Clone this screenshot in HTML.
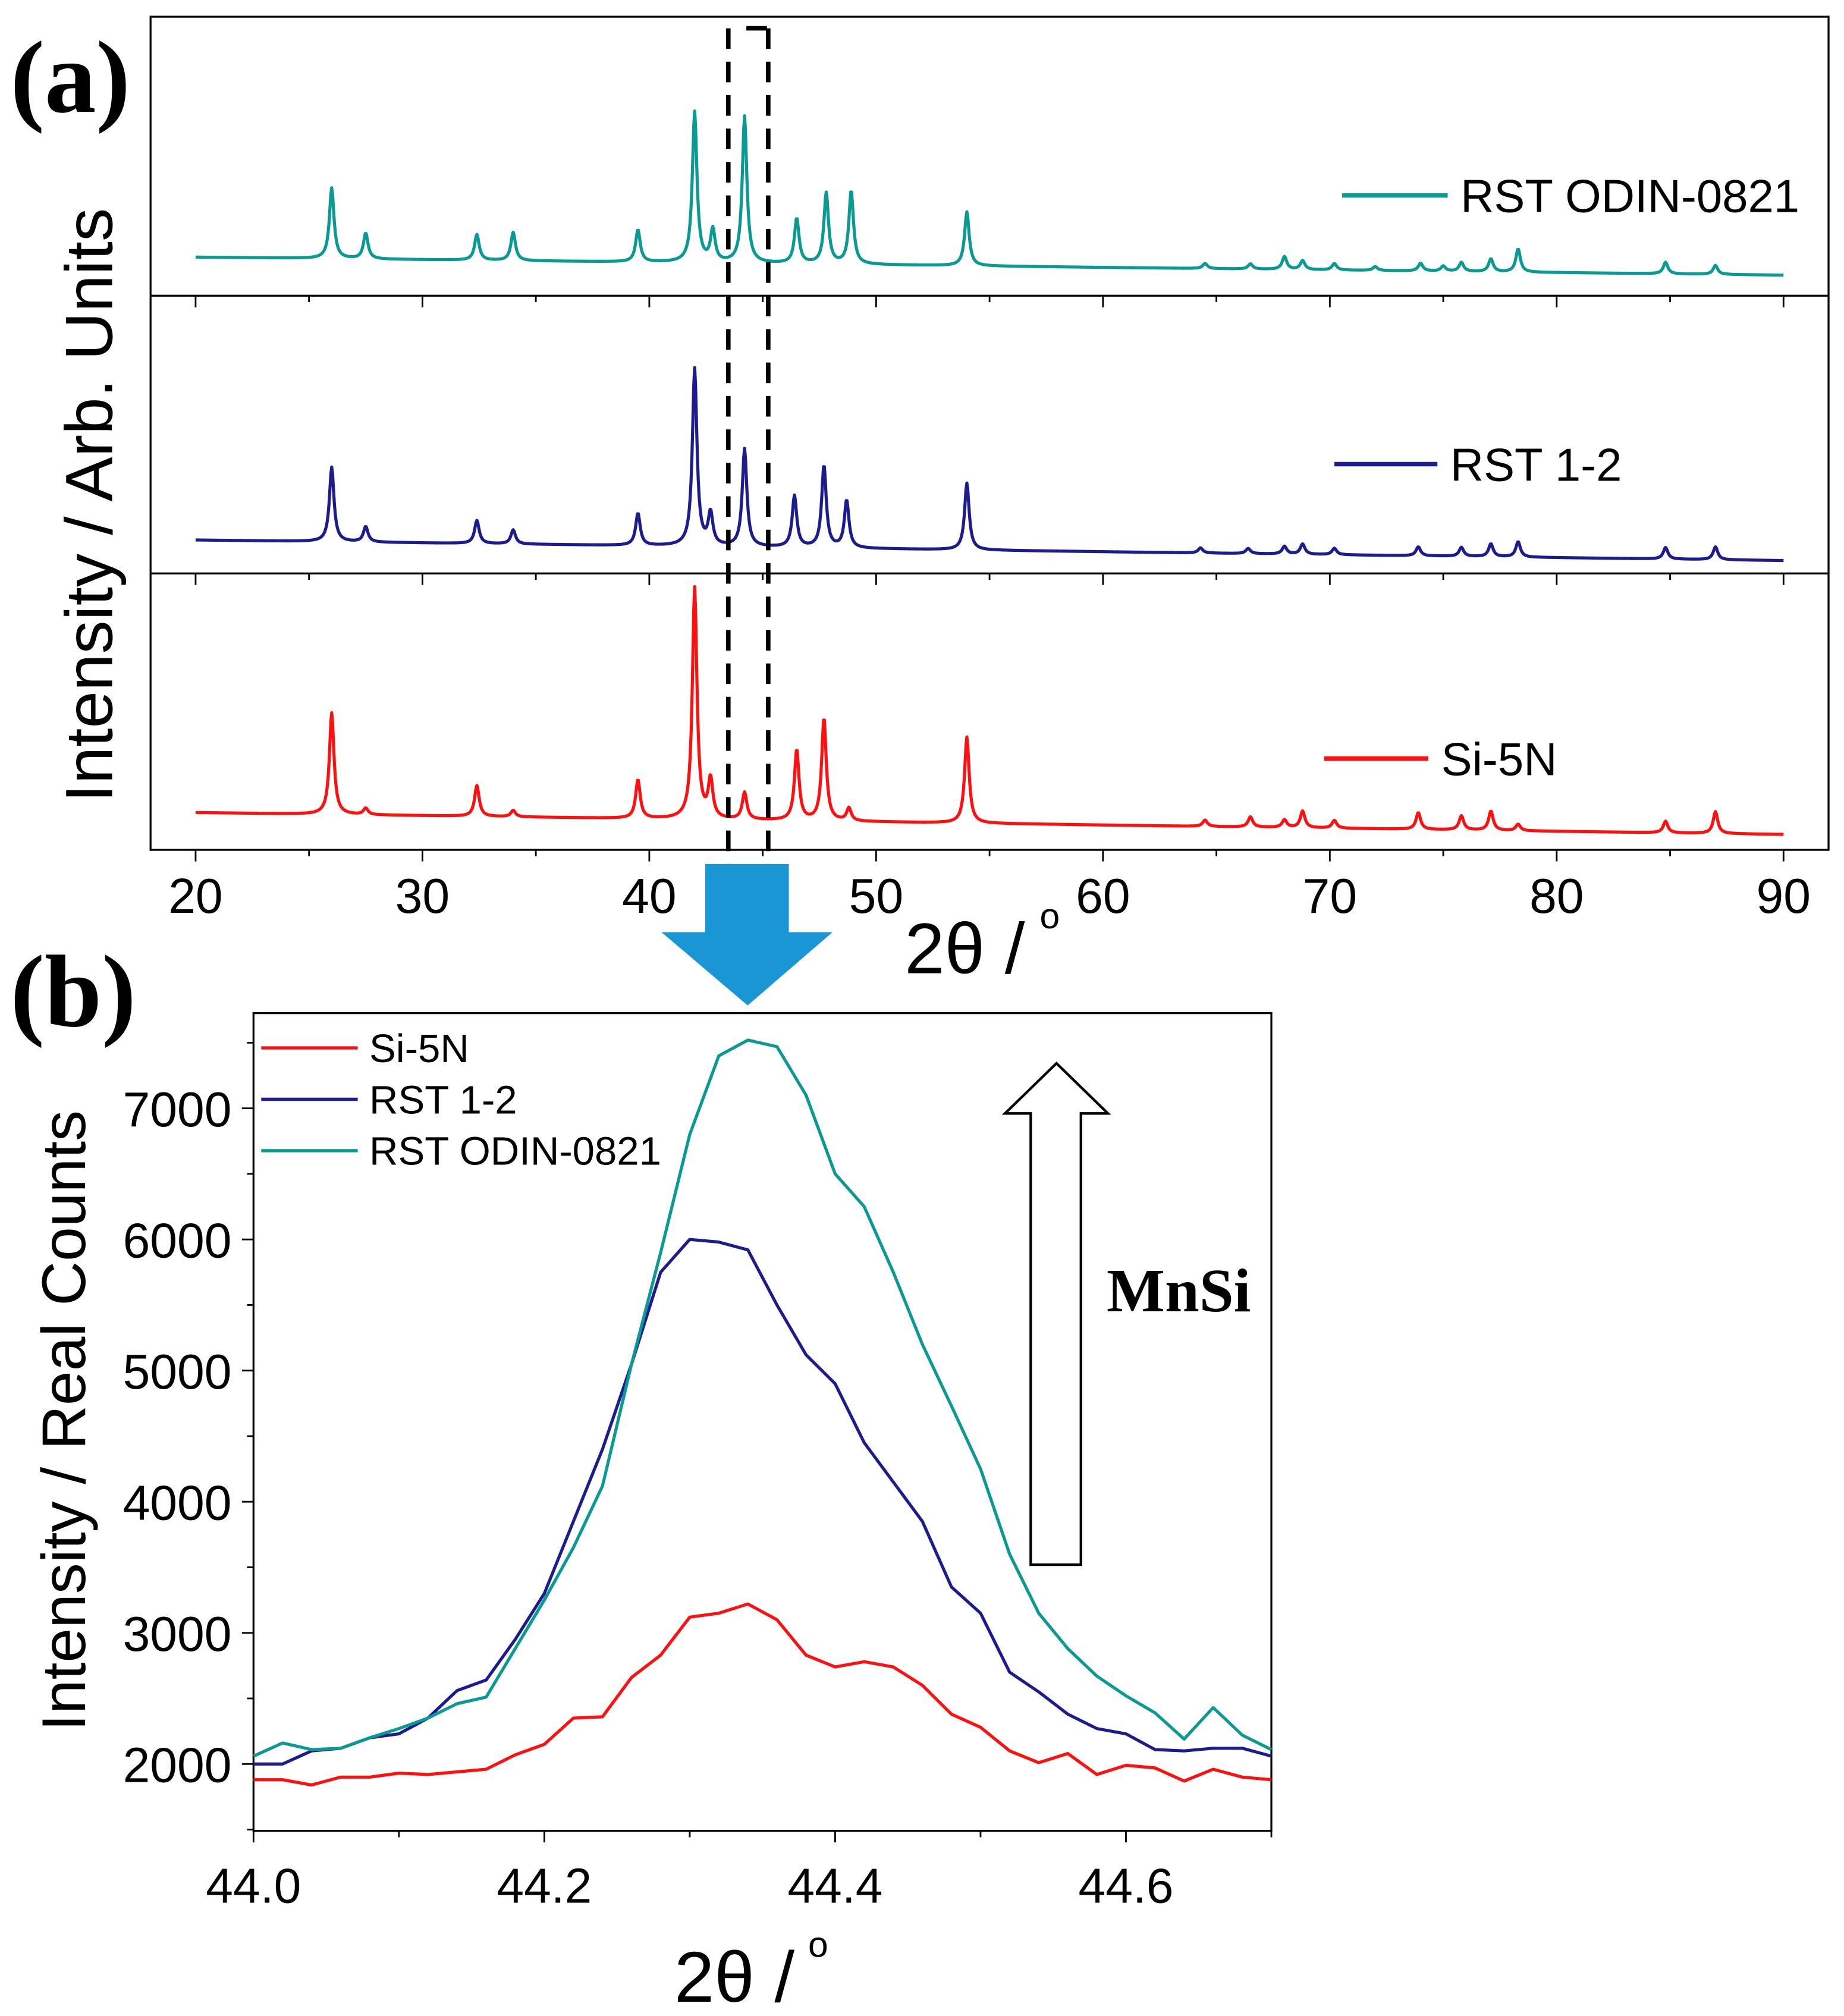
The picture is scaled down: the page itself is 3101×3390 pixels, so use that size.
<!DOCTYPE html>
<html><head><meta charset="utf-8"><style>
html,body{margin:0;padding:0;background:#fff;}
svg{display:block;}
text{font-family:"Liberation Sans",sans-serif;fill:#000;}
.serif{font-family:"Liberation Serif",serif;font-weight:bold;}
</style></head><body>
<svg id="fig" width="3101" height="3390" viewBox="0 0 1433 1568" preserveAspectRatio="none" xmlns="http://www.w3.org/2000/svg">
<rect x="0" y="0" width="1433" height="1568" fill="#fff"/>
<text x="8" y="87" font-size="80" class="serif">(a)</text>
<text x="8" y="798" font-size="80" class="serif">(b)</text>
<g id="pa"></g>
<g id="pb"></g>
</svg>
<script>
// ---------- Panel (a) data ----------
const aTicks = [20,30,40,50,60,70,80,90];
const tealPeakPos = [26,27.5,32.4,34,39.5,42,42.8,44.2,46.5,47.8,48.9,54,64.5,66.5,68,68.8,70.2,72,74,75,75.8,77.1,78.3,84.8,87];
const tealPeakH   = [55,20,20,22,25,117,25,114,35,55,57,42,4,4,10,7,5,3,6,4,7,10,18,9,7];
const bluePeakPos = [26,27.5,32.4,34,39.5,42,42.7,44.2,46.4,47.7,48.7,54,64.3,66.4,68,68.8,70.2,73.9,75.8,77.1,78.3,84.8,87];
const bluePeakH   = [58,12,18,11,25,138,25,76,40,64,37,52,4,4,6,8,5,7,7,10,12,9,10];
const redPeakPos  = [26,27.5,32.4,34,39.5,42,42.7,44.2,46.5,47.7,48.8,54,64.5,66.5,68,68.8,70.2,73.9,75.8,77.1,78.3,84.8,87];
const redPeakH    = [79,5,24,5,30,180,30,21,55,80,10,67,5,8,6,13,6,13,11,15,5,9,17];
const tealBase = [200,214];
const blueBase = [420,436];
const redBase  = [632,649];

// ---------- Panel (b) data ----------
const bX = [44.00,44.02,44.04,44.06,44.08,44.10,44.12,44.14,44.16,44.18,44.20,44.22,44.24,44.26,44.28,44.30,44.32,44.34,44.36,44.38,44.40,44.42,44.44,44.46,44.48,44.50,44.52,44.54,44.56,44.58,44.60,44.62,44.64,44.66,44.68,44.70];
const bRed  = [1880,1880,1840,1900,1900,1930,1920,1940,1960,2070,2150,2350,2360,2660,2830,3120,3150,3220,3100,2830,2740,2780,2740,2600,2380,2280,2100,2010,2080,1920,1990,1970,1870,1960,1900,1880];
const bBlue = [2000,2000,2100,2120,2200,2230,2350,2560,2640,2950,3300,3850,4400,5050,5750,6000,5980,5920,5500,5120,4900,4450,4150,3850,3350,3150,2700,2550,2380,2270,2230,2110,2100,2120,2120,2060];
const bTeal = [2060,2160,2110,2120,2200,2270,2350,2460,2510,2880,3250,3650,4120,5050,5900,6800,7400,7520,7470,7100,6500,6250,5750,5200,4730,4250,3600,3150,2880,2670,2520,2390,2190,2430,2220,2110];
const bXTicks = [44.0,44.2,44.4,44.6];
const bYTicks = [2000,3000,4000,5000,6000,7000];

const NS="http://www.w3.org/2000/svg";
function mk(parent,tag,attrs,txt){const e=document.createElementNS(NS,tag);for(const k in attrs)e.setAttribute(k,attrs[k]);if(txt!==undefined)e.textContent=txt;parent.appendChild(e);return e;}
const TEAL="#0a9a93", BLUE="#1c1c8e", RED="#ff1010";

// ===== Panel a =====
const pa=document.getElementById('pa');
const ax = v => 152 + (v-20)*(1386-152)/70;
let el;
el=mk(pa,'rect',{x:117,y:13,width:1304,height:648,fill:'none',stroke:'#000','stroke-width':1.5});


[230,446].forEach((y,i)=>{
  el=mk(pa,'line',{x1:117,x2:1421,y1:y,y2:y,stroke:'#000','stroke-width':1.5});
  
  
});
function profile(pos,h,base,col,name){
  let d='';
  for(let v=20;v<=90.0001;v+=0.04){
    let s=0;
    for(let i=0;i<pos.length;i++){const w=0.12;const dx=(v-pos[i])/w;s+=h[i]/(1+dx*dx);}
    const b=base[0]+(base[1]-base[0])*(v-20)/70;
    d+=(d?'L':'M')+ax(v).toFixed(2)+' '+(b-s).toFixed(2);
  }
  el=mk(pa,'path',{d:d,fill:'none',stroke:col,'stroke-width':2.4,'stroke-linejoin':'round'});
  
  
}
profile(tealPeakPos,tealPeakH,tealBase,TEAL,'series-rst-odin-0821');
profile(bluePeakPos,bluePeakH,blueBase,BLUE,'series-rst-1-2');
profile(redPeakPos,redPeakH,redBase,RED,'series-si-5n');
for(let v=20;v<=90;v+=5){
  const major=v%10===0;
  [230,446].forEach(y=>{
    el=mk(pa,'line',{x1:ax(v),x2:ax(v),y1:y,y2:y+(major?9:5),stroke:'#000','stroke-width':1.3});
    
    
  });
  el=mk(pa,'line',{x1:ax(v),x2:ax(v),y1:661,y2:661+(major?9:5),stroke:'#000','stroke-width':1.3});
  
  
}
aTicks.forEach(v=>{
  el=mk(pa,'text',{x:ax(v),y:710,'font-size':38,'text-anchor':'middle'},String(v));
  
  
});
el=mk(pa,'text',{x:703,y:757,'font-size':56},'2θ / ');


el=mk(pa,'text',{x:808,y:722,'font-size':28},'o');


el=mk(pa,'text',{x:0,y:0,'font-size':52,'text-anchor':'middle',transform:'translate(87,393) rotate(-90)'},'Intensity / Arb. Units');


[[1043,1125,152,TEAL,'RST ODIN-0821'],[1037,1117,361,BLUE,'RST 1-2'],[1029,1110,590,RED,'Si-5N']].forEach(l=>{
  el=mk(pa,'line',{x1:l[0],x2:l[1],y1:l[2],y2:l[2],stroke:l[3],'stroke-width':3.5});
  
  
  el=mk(pa,'text',{x:l[1]+10,y:l[2]+13,'font-size':36},l[4]);
  
  
});
// dashed box
[[566,22,566,676],[597,22,597,676],[580,22,597,22]].forEach(s=>{
  el=mk(pa,'line',{x1:s[0],y1:s[1],x2:s[2],y2:s[3],stroke:'#000','stroke-width':3.5,'stroke-dasharray':'16 10'});
  
  
});
el=mk(pa,'path',{d:'M548 672 L613 672 L613 725 L647 725 L581 782 L514 725 L548 725 Z',fill:'#1a96d4'});



// ===== Panel b =====
const pb=document.getElementById('pb');
const bx = v => 197 + (v-44.0)*(988-197)/0.7;
const by = v => 1372 - (v-2000)*(1372-862)/5000;
el=mk(pb,'rect',{x:197,y:788,width:791,height:636,fill:'none',stroke:'#000','stroke-width':1.5});


for(let k=0;k<=7;k++){
  const v=44.0+k*0.1;const major=k%2===0;
  el=mk(pb,'line',{x1:bx(v),x2:bx(v),y1:1424,y2:1424+(major?9:5),stroke:'#000','stroke-width':1.3});
  
  
}
for(let v=1500;v<=7500;v+=500){
  const major=v%1000===0;
  el=mk(pb,'line',{x1:197,x2:197-(major?9:5),y1:by(v),y2:by(v),stroke:'#000','stroke-width':1.3});
  
  
}
bXTicks.forEach(v=>{
  el=mk(pb,'text',{x:bx(v),y:1480,'font-size':38,'text-anchor':'middle'},v.toFixed(1));
  
  
});
bYTicks.forEach(v=>{
  el=mk(pb,'text',{x:180,y:by(v)+14,'font-size':38,'text-anchor':'end'},String(v));
  
  
});
function bLine(arr,col,name){
  const d=arr.map((v,i)=>(i?'L':'M')+bx(bX[i]).toFixed(2)+' '+by(v).toFixed(2)).join('');
  el=mk(pb,'path',{d:d,fill:'none',stroke:col,'stroke-width':2.4,'stroke-linejoin':'round'});
  
  
}
bLine(bRed,RED,'series-b-si-5n');
bLine(bBlue,BLUE,'series-b-rst-1-2');
bLine(bTeal,TEAL,'series-b-rst-odin-0821');
[[815,RED,'Si-5N'],[855,BLUE,'RST 1-2'],[895,TEAL,'RST ODIN-0821']].forEach(l=>{
  el=mk(pb,'line',{x1:203,x2:278,y1:l[0],y2:l[0],stroke:l[1],'stroke-width':2.5});
  
  
  el=mk(pb,'text',{x:287,y:l[0]+11,'font-size':31},l[2]);
  
  
});
el=mk(pb,'path',{d:'M801 1217 L840 1217 L840 866 L861 866 L821 827 L781 866 L801 866 Z',fill:'#fff',stroke:'#000','stroke-width':2});


el=mk(pb,'text',{x:860,y:1020,'font-size':48,'class':'serif'},'MnSi');


el=mk(pb,'text',{x:0,y:0,'font-size':48,'text-anchor':'middle',transform:'translate(66,1105) rotate(-90)'},'Intensity / Real Counts');


el=mk(pb,'text',{x:524,y:1557,'font-size':56},'2θ / ');


el=mk(pb,'text',{x:628,y:1522,'font-size':28},'o');


</script>
</body></html>
